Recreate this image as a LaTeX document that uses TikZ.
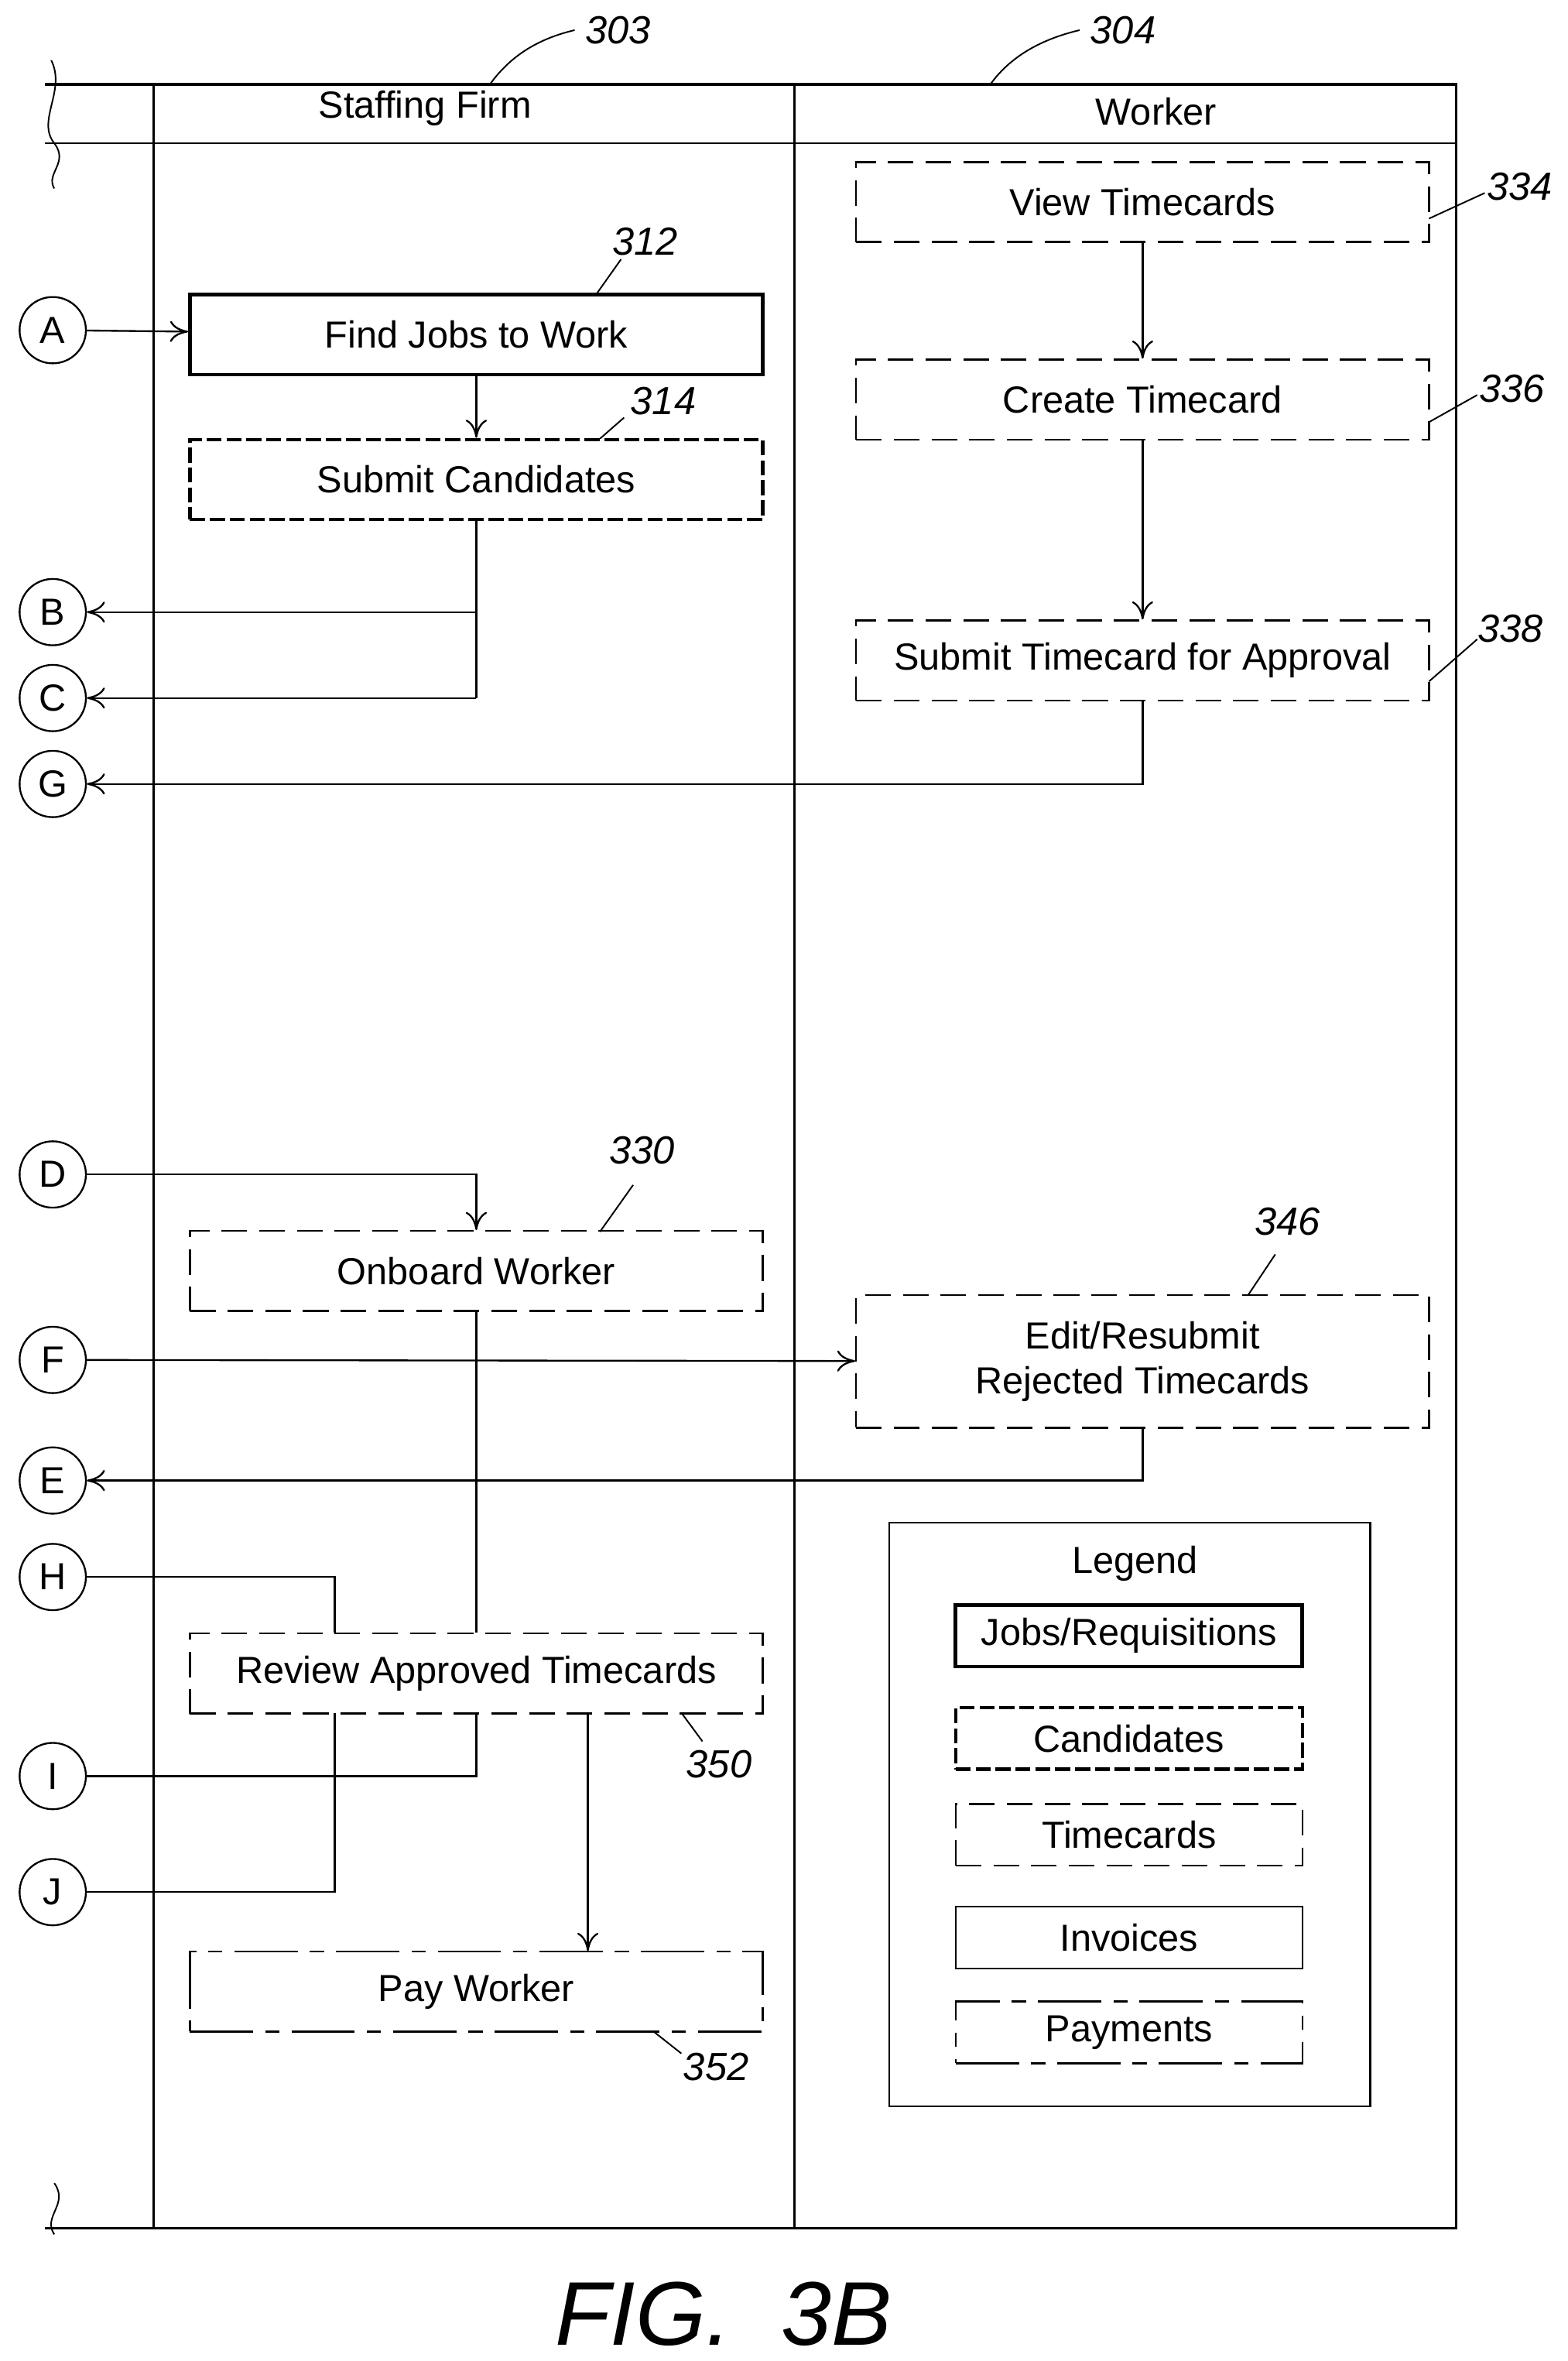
\documentclass[tikz,border=0pt]{standalone}
\usepackage{fontspec}
\setmainfont{Liberation Sans}
\usetikzlibrary{arrows.meta}
\tikzset{
  every node/.style={font=\fontsize{12.5}{15}\selectfont},
  box/.style={draw, line width=0.6pt, minimum width=190pt, minimum height=26.5pt, inner sep=0pt, align=center},
  jobs/.style={box, line width=1.2pt},
  cands/.style={box, line width=1.1pt, dash pattern=on 5pt off 1.6pt},
  tcard/.style={box, dash pattern=on 8.5pt off 4pt},
  pays/.style={box, dash pattern=on 21pt off 4pt on 4.7pt off 4pt},
  leg/.style={draw, line width=0.6pt, minimum width=115pt, minimum height=20.5pt, inner sep=0pt},
  conn/.style={draw, circle, line width=0.6pt, minimum size=22pt, inner sep=0pt},
  ref/.style={font=\fontsize{13}{15}\selectfont\itshape},
  flow/.style={line width=0.6pt},
  arr/.style={flow, -{To[length=6pt,width=7pt]}},
}
\begin{document}
\begin{tikzpicture}[x=0.5pt,y=-0.5pt]
        \useasboundingbox (0,0) rectangle (1040,1566);
        %frame
        \draw[line width=0.8pt](30,56)--(966,56)--(966,1478)--(30,1478);
        \draw[line width=0.6pt](30,95)--(966,95);
        \draw[line width=0.8pt](102,56)--(102,1478);
        \draw[line width=0.6pt](527,56)--(527,1478);
        \draw[line width=0.5pt](34,40) .. controls (44,60) and (24,80) .. (36,95) .. controls (46,108) and (30,115) .. (36,125);
        \draw[line width=0.5pt](36,1448) .. controls (46,1462) and (28,1470) .. (36,1482);
        \node (hfirm) at (282,72) {Staffing Firm};
        \node (hwork) at (767,74) {Worker};
        \node[ref] (r303) at (410,20) {303};
        \node[ref] (r304) at (745,20) {304};
        \draw[line width=0.5pt](325,56) .. controls (340,35) and (360,25) .. (r303.west);
        \draw[line width=0.5pt](657,56) .. controls (672,35) and (695,25) .. (r304.west);

        %boxes
        \node[jobs] (find) at (316,222) {Find Jobs to Work};
        \node[cands] (cand) at (316,318) {Submit Candidates};
        \node[tcard] (view) at (758,134) {View Timecards};
        \node[tcard] (create) at (758,265) {Create Timecard};
        \node[tcard] (subtc) at (758,438) {Submit Timecard for Approval};
        \node[tcard] (onb) at (316,843) {Onboard Worker};
        \node[tcard, minimum height=44pt] (edit) at (758,903) {Edit/Resubmit\\Rejected Timecards};
        \node[tcard] (rev) at (316,1110) {Review Approved Timecards};
        \node[pays] (pay) at (316,1321) {Pay Worker};

        %connectors
        \foreach \n/\y in {A/219,B/406,C/463,G/520,D/779,F/902,E/982,H/1046,I/1178,J/1255}
          \node[conn] (\n) at (35,\y) {\n};

        %arrows
        \draw[arr](A)--(find);
        \draw[arr](find)--(cand);
        \draw[flow](cand.south)--(316,463);
        \draw[arr](316,406)--(B);
        \draw[arr](316,463)--(C);
        \draw[arr](view)--(create);
        \draw[arr](create)--(subtc);
        \draw[arr](subtc.south)|-(G);
        \draw[arr](D)-|(onb.north);
        \draw[arr](F)--(edit);
        \draw[arr](edit.south)|-(E);
        \draw[flow](onb.south)--(rev.north);
        \draw[flow](H)-|(222,1083);
        \draw[flow](I)-|(rev.south);
        \draw[flow](J)-|(222,1136);
        \draw[arr](390,1136)--(390,1294);

        %reference numerals
        \node[ref] (r312) at (428,160) {312};
        \draw[line width=0.5pt](395,196)--(412,172);
        \node[ref] (r314) at (440,266) {314};
        \draw[line width=0.5pt](398,291)--(414,277);
        \node[ref] (r334) at (1008,124) {334};
        \draw[line width=0.5pt](948,145)--(985,128);
        \node[ref] (r336) at (1003,258) {336};
        \draw[line width=0.5pt](948,280)--(980,262);
        \node[ref] (r338) at (1002,417) {338};
        \draw[line width=0.5pt](948,452)--(980,424);
        \node[ref] (r330) at (426,763) {330};
        \draw[line width=0.5pt](398,817)--(420,786);
        \node[ref] (r346) at (854,810) {346};
        \draw[line width=0.5pt](828,859)--(846,832);
        \node[ref] (r350) at (477,1170) {350};
        \draw[line width=0.5pt](452,1136)--(466,1155);
        \node[ref] (r352) at (475,1371) {352};
        \draw[line width=0.5pt](433,1347)--(452,1362);

        %legend
        \draw[line width=0.6pt](590,1010) rectangle (909,1397);
        \node (legend) at (753,1037) {Legend};
        \node[leg, line width=1.2pt] (ljobs) at (749,1085) {Jobs/Requisitions};
        \node[leg, line width=1.1pt, dash pattern=on 5pt off 1.6pt] (lcand) at (749,1153) {Candidates};
        \node[leg, dash pattern=on 8.5pt off 4pt] (ltc) at (749,1217) {Timecards};
        \node[leg] (linv) at (749,1285) {Invoices};
        \node[leg, dash pattern=on 21pt off 4pt on 4.7pt off 4pt] (lpay) at (749,1348) {Payments};

        \node[font=\fontsize{30}{34}\selectfont\itshape] (fig) at (480,1535) {FIG.\ \ 3B};
    \end{tikzpicture}
\end{document}
